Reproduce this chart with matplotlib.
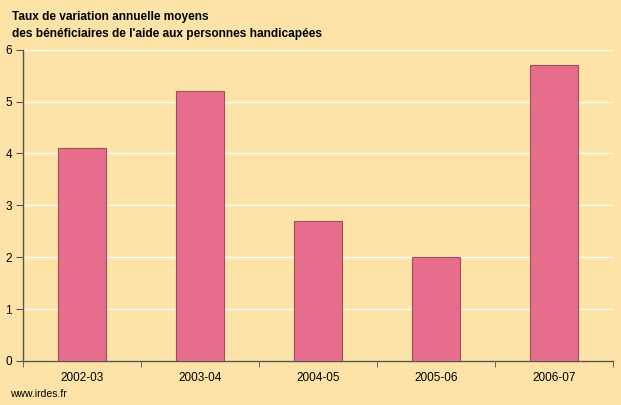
import matplotlib
matplotlib.use("Agg")
from matplotlib import pyplot as plt
import numpy as np

categories = ["2002-03", "2003-04", "2004-05", "2005-06", "2006-07"]
values = [4.1, 5.2, 2.7, 2.0, 5.7]

bg = "#fde3a7"
plt.rcParams["font.family"] = ["Liberation Sans", "DejaVu Sans"]

fig = plt.figure(figsize=(6.21, 4.05), dpi=100, facecolor=bg)
ax = fig.add_axes([0.037, 0.109, 0.950, 0.768], facecolor=bg)

x = np.arange(len(categories))
ax.bar(x, values, width=0.41, color="#e66e8c", edgecolor="#a0505a", linewidth=0.8, zorder=3)

ax.set_xlim(-0.5, len(categories) - 0.5)
ax.set_ylim(0, 6)
ax.set_yticks(range(7))
ax.yaxis.grid(True, color="white", linewidth=1, zorder=0)
ax.set_xticks(x)
ax.set_xticklabels(categories, fontsize=8.5)
ax.set_xticks(np.arange(-0.5, len(categories)), minor=True)
ax.tick_params(axis="x", which="major", length=0, pad=8)
ax.tick_params(axis="x", which="minor", length=4, color="#555555", direction="out")
ax.tick_params(axis="y", length=5, color="#555555", labelsize=8.5, pad=3)

for side in ["top", "right"]:
    ax.spines[side].set_visible(False)
for side in ["left", "bottom"]:
    ax.spines[side].set_color("#555555")
    ax.spines[side].set_linewidth(1)

fig.text(0.019, 0.972, "Taux de variation annuelle moyens", fontsize=8.6, fontweight="bold", va="top")
fig.text(0.019, 0.932, "des bénéficiaires de l'aide aux personnes handicapées", fontsize=8.6, fontweight="bold", va="top")
fig.text(0.016, 0.027, "www.irdes.fr", fontsize=7.5, va="center")

fig.savefig("out.png", dpi=100, facecolor=bg)
